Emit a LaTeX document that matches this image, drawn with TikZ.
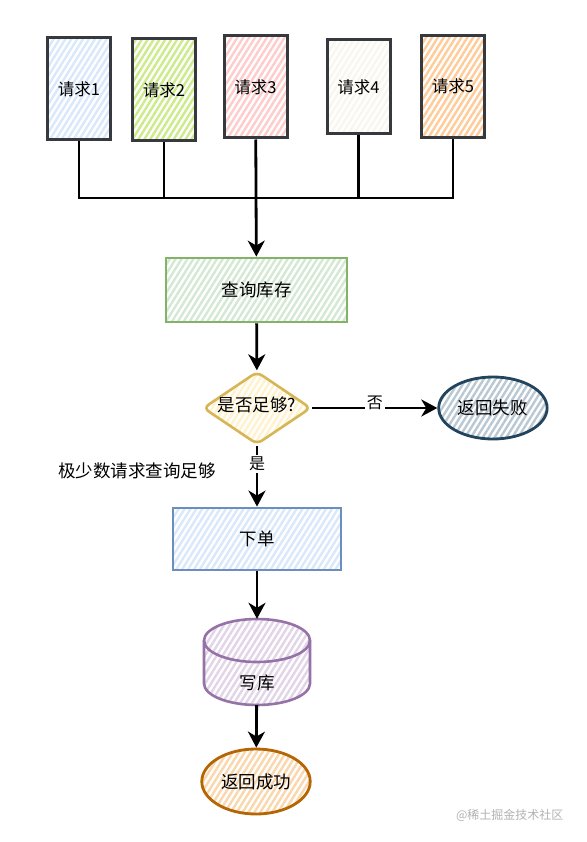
\documentclass[tikz,border=0pt]{standalone}
\usepackage{fontspec}
\setmainfont{Noto Sans CJK SC}
\usetikzlibrary{arrows.meta,positioning,shapes.geometric,patterns.meta}
\definecolor{reqline}{HTML}{36393D}
\definecolor{bluefill}{HTML}{DAE8FC}
\definecolor{blueline}{HTML}{6C8EBF}
\definecolor{greenreq}{HTML}{CDEB8B}
\definecolor{pinkreq}{HTML}{FFCCCC}
\definecolor{creamreq}{HTML}{F9F7ED}
\definecolor{orangereq}{HTML}{FFCC99}
\definecolor{stockfill}{HTML}{D5E8D4}
\definecolor{stockline}{HTML}{82B366}
\definecolor{askfill}{HTML}{FFF2CC}
\definecolor{askline}{HTML}{D6B656}
\definecolor{failfill}{HTML}{BAC8D3}
\definecolor{failline}{HTML}{23445D}
\definecolor{dbfill}{HTML}{E1D5E7}
\definecolor{dbline}{HTML}{9673A6}
\definecolor{okfill}{HTML}{FAD7AC}
\definecolor{okline}{HTML}{B46504}
\tikzset{
    %Define standard arrow tip
    >={Stealth[length=16pt,width=17pt,inset=5pt]},
    hatch/.style={
      pattern={Lines[angle=58,distance=5pt,line width=2.4pt]},
      pattern color=#1},
    req/.style={
      rectangle,
      draw=reqline, line width=3pt,
      hatch=#1,
      minimum width=63pt,
      minimum height=102pt,
      font=\fontsize{16.5}{19}\selectfont,
      text centered},
    stepbox/.style={
      rectangle,
      line width=2.8pt,
      text centered},
    decision/.style={
      diamond,
      aspect=1.5,
      rounded corners=6pt,
      line width=2.6pt,
      inner sep=0pt,
      text height=10pt,
      text depth=3pt,
      minimum width=108pt,
      minimum height=73pt},
    endpoint/.style={
      ellipse,
      line width=2.8pt},
    database/.style={
      rectangle,
      minimum width=106pt,
      minimum height=86pt,
      text height=54pt,
      text depth=0pt},
    dbwall/.style={
      draw=dbline, line width=2.6pt},
    link/.style={
      line width=2.8pt, black},
    lbl/.style={
      fill=white, inner sep=2pt,
      font=\fontsize{16}{18}\selectfont}
}

\begin{document}
\begin{tikzpicture}[x=1pt,y=-1pt,font=\fontsize{17.5}{20}\selectfont]
    \fill [white] (0,0) rectangle (586,842);
    % requests
    \node (r1) [req=bluefill] at (79,89)
          {请求1};
    \node (r2) [req=greenreq] at (164,90)
          {请求2};
    \node (r3) [req=pinkreq] at (255.5,87)
          {请求3};
    \node (r4) [req=creamreq, minimum height=94pt] at (358.5,87)
          {请求4};
    \node (r5) [req=orangereq] at (453,86.5)
          {请求5};
    \coordinate (bus) at (256,198);
    \draw [link] (r1.south) |- (bus) -| (r5.south);
    \draw [link] (r2.south) -- (r2.south |- bus);
    \draw [link] (r4.south) -- (r4.south |- bus);
    % main flow
    \node (stock) [stepbox, draw=stockline, hatch=stockfill,
          minimum width=181pt, minimum height=64pt] at (256.5,290)
          {查询库存}
          edge [link,<-] (r3);
    \node (ask) [decision, draw=askline, hatch=askfill] at (257,408)
          {是否足够?}
          edge [link,<-] (stock);
    \node (fail) [endpoint, draw=failline, hatch=failfill,
          minimum width=107pt, minimum height=62pt] [right=125pt of ask]
          {返回失败};
    \draw [link,->] (ask) -- node [lbl, yshift=5pt] {否} (fail);
    \node (order) [stepbox, draw=blueline, hatch=bluefill,
          minimum width=168pt, minimum height=62pt] at (257,539)
          {下单};
    \draw [link,->] (ask) -- node [lbl, pos=0.3] {是} (order);
    % database cylinder
    \coordinate (dbc) at (257,662);
    \path [dbwall, hatch=dbfill]
          ([shift={(-53pt,21.5pt)}]dbc) arc [start angle=180, end angle=0, x radius=53pt, y radius=21.5pt]
          -- ([shift={(53pt,-21.5pt)}]dbc) arc [start angle=0, end angle=-180, x radius=53pt, y radius=21.5pt]
          -- cycle;
    \draw [dbwall] ([shift={(-53pt,21.5pt)}]dbc) arc [start angle=180, end angle=360, x radius=53pt, y radius=21.5pt];
    \node (db) [database] at (dbc)
          {写库}
          edge [link,<-] (order);
    \node (ok) [endpoint, draw=okline, hatch=okfill,
          minimum width=106pt, minimum height=65pt] at (256,781.5)
          {返回成功}
          edge [link,<-] (db);
    \node (note) at (137,471)
          {极少数请求查询足够};
    \node (mark) [anchor=east, text=black!30, font=\fontsize{12}{14}\selectfont] at (567,815)
          {@稀土掘金技术社区};
\end{tikzpicture}
\end{document}
